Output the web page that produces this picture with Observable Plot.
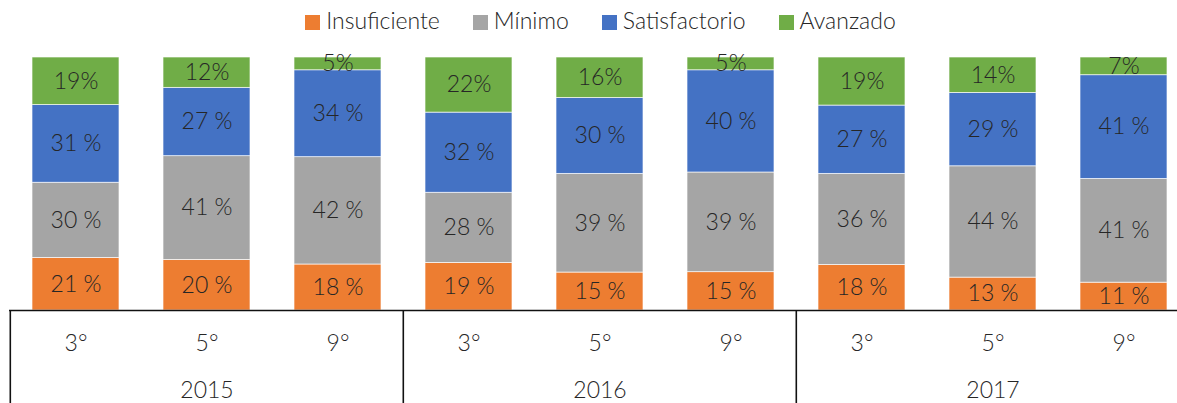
<!DOCTYPE html>
<html>
<head>
<meta charset="utf-8">
<script src="https://cdn.jsdelivr.net/npm/d3@7"></script>
<script src="https://cdn.jsdelivr.net/npm/@observablehq/plot@0.6"></script>
<style>
  html, body { margin: 0; padding: 0; background: #fff; }
  body { width: 1177px; height: 403px; overflow: hidden; font-family: Lato, "Open Sans", sans-serif; }
  #legend { height: 44px; box-sizing: border-box; padding-top: 6px; padding-left: 24px; display: flex; justify-content: center; align-items: flex-start; }
  .item { display: flex; align-items: center; margin: 0 16.5px; font-size: 23px; font-weight: 300; color: #262626; line-height: normal; }
  .sw { width: 15px; height: 15px; margin-right: 6px; transform: translateY(2px); }
  svg { display: block; }
</style>
</head>
<body>
<div id="legend"></div>
<div id="chart"></div>
<script>
const years = ["2015", "2016", "2017"];
const grades = ["3°", "5°", "9°"];
const levels = ["Insuficiente", "Mínimo", "Satisfactorio", "Avanzado"];
const colors = ["#ED7D31", "#A5A5A5", "#4472C4", "#70AD47"];
// values per bar, order: 2015 3°,5°,9°, 2016 3°,5°,9°, 2017 3°,5°,9°
const insuficiente  = [21, 20, 18, 19, 15, 15, 18, 13, 11];
const minimo        = [30, 41, 42, 28, 39, 39, 36, 44, 41];
const satisfactorio = [31, 27, 34, 32, 30, 40, 27, 29, 41];
const avanzado      = [19, 12, 5, 22, 16, 5, 19, 14, 7];

const series = [insuficiente, minimo, satisfactorio, avanzado];
const keys = [];
const bars = [];
years.forEach(y => grades.forEach(g => { keys.push(y + "|" + g); bars.push({key: y + "|" + g, year: y, grade: g}); }));

const data = [];
bars.forEach((b, i) => {
  levels.forEach((lv, j) => {
    const v = series[j][i];
    data.push({key: b.key, level: lv, value: v, label: j === 3 ? v + "%" : v + " %"});
  });
});

// legend
const legend = document.getElementById("legend");
levels.forEach((lv, j) => {
  const it = document.createElement("div");
  it.className = "item";
  const sw = document.createElement("span");
  sw.className = "sw";
  sw.style.background = colors[j];
  it.appendChild(sw);
  it.appendChild(document.createTextNode(lv));
  legend.appendChild(it);
});

const xRange = [8.7, 1191.3];
const halfStep = (xRange[1] - xRange[0]) / keys.length / 2;
const H = 359, mTop = 13, mBottom = 93;

const chart = Plot.plot({
  width: 1177,
  height: H,
  marginTop: mTop,
  marginBottom: mBottom,
  marginLeft: 9,
  marginRight: 0,
  style: {fontFamily: "Lato, 'Open Sans', sans-serif", background: "#fff"},
  x: {type: "band", domain: keys, range: xRange, paddingInner: 0.335, paddingOuter: 0.1675, axis: null},
  y: {domain: [0, 1], axis: null},
  color: {domain: levels, range: colors},
  marks: [
    Plot.barY(data, Plot.stackY({offset: "normalize", x: "key", y: "value", z: "level", fill: "level", stroke: "#fff", strokeWidth: 0.8, strokeOpacity: 0.8})),
    Plot.text(data, Plot.stackY({offset: "normalize", x: "key", y: "value", z: "level", text: "label", fill: "#262626", fontSize: 23, fontWeight: 300})),
    Plot.ruleY([0], {stroke: "#111", strokeWidth: 1.6}),
    Plot.ruleX(bars.filter(b => b.grade === grades[0]), {x: "key", dx: -halfStep, insetTop: H - mTop - mBottom, insetBottom: -mBottom, stroke: "#111", strokeWidth: 1.6}),
    Plot.text(bars, {x: "key", text: "grade", frameAnchor: "bottom", dy: 40, fill: "#262626", fontSize: 23, fontWeight: 300}),
    Plot.text(bars.filter(b => b.grade === grades[1]), {x: "key", text: "year", frameAnchor: "bottom", dy: 87, fill: "#262626", fontSize: 23, fontWeight: 300})
  ]
});
document.getElementById("chart").appendChild(chart);
</script>
</body>
</html>
